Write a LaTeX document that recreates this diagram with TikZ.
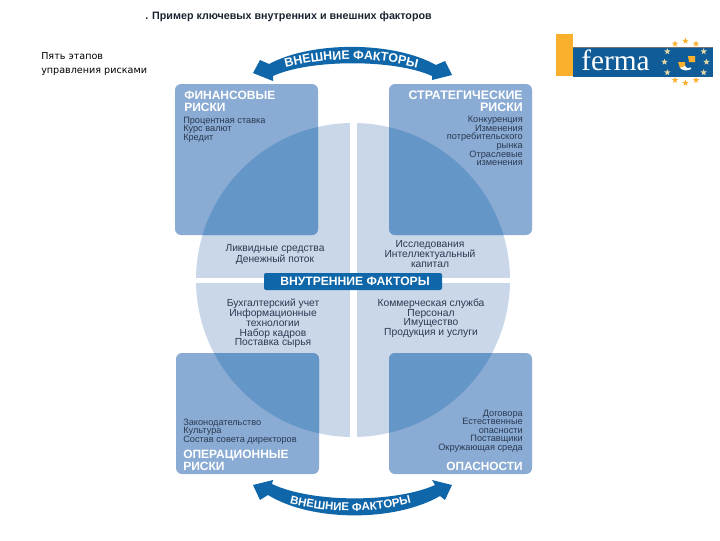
\documentclass[tikz,border=0pt]{standalone}
\usepackage{fontspec}
\setmainfont{Liberation Sans}
\newfontfamily\uifont{DejaVu Sans}
\newfontfamily\logofont{Liberation Serif}
\usetikzlibrary{decorations.text,shapes.geometric}
\definecolor{lightq}{HTML}{C9D7E9}
\definecolor{boxc}{HTML}{8AABD3}
\definecolor{overc}{HTML}{6496C8}
\definecolor{bandc}{HTML}{0F66A9}
\definecolor{txtc}{HTML}{2B3A52}
\definecolor{logoy}{HTML}{FBB02D}
\definecolor{logob}{HTML}{0F5C98}
\definecolor{logop}{HTML}{E6D9A8}
\newcommand{\fs}[2]{\fontsize{#1}{#2}\selectfont}
\tikzset{
  bodyL/.style={anchor=north west,align=left,inner sep=0pt,text=txtc,font=\fs{6.9}{6.45}},
  bodyR/.style={anchor=north east,align=right,inner sep=0pt,text=txtc,font=\fs{6.9}{6.45}},
  midtext/.style={anchor=north,align=center,inner sep=0pt,text=txtc,font=\fs{7.7}{7.3}},
  headL/.style={anchor=north west,align=left,inner sep=0pt,text=white,font=\fs{9}{9.2}\bfseries},
  headR/.style={anchor=north east,align=right,inner sep=0pt,text=white,font=\fs{9.3}{9.2}\bfseries},
  riskbox/.style={fill=boxc,rounded corners=4.5pt},
  bigarrow/.style={fill=bandc,draw=none},
  logostar/.style={star,star points=5,star point ratio=2.4,inner sep=0pt,minimum size=5pt},
}
\begin{document}
\begin{tikzpicture}[x=0.75pt,y=-0.75pt]
\useasboundingbox (0,0) rectangle (720,540);
% circle quadrants
\begin{scope}
  \clip (353,280) circle [radius=157];
  \fill[lightq] (190,120) rectangle (350,278);
  \fill[lightq] (357,120) rectangle (515,278);
  \fill[lightq] (190,283) rectangle (350,440);
  \fill[lightq] (357,283) rectangle (515,440);
\end{scope}
% risk boxes
\fill[riskbox] (175,84) rectangle (318,235);
\fill[riskbox] (389,84) rectangle (532,235);
\fill[riskbox] (176,353) rectangle (319,474);
\fill[riskbox] (389,353) rectangle (532,474);
% overlaps
\foreach \xa/\ya/\xb/\yb in {175/84/318/235,389/84/532/235,176/353/319/474,389/353/532/474}{
  \begin{scope}
    \clip (353,280) circle [radius=157];
    \fill[overc,rounded corners=4.5pt] (\xa,\ya) rectangle (\xb,\yb);
  \end{scope}
}
% band
\fill[bandc,rounded corners=1.5pt] (264,273) rectangle (442,290);
\node[inner sep=0pt,text=white,font=\fs{9.1}{10}\bfseries] (band) at (355,281.5) {ВНУТРЕННИЕ ФАКТОРЫ};
% top arrow
\fill[bigarrow] (253,73) -- (260,60) -- (269,64)
  .. controls (312,41) and (393,41) .. (436,65)
  -- (445,61) -- (452,75) -- (432,80) -- (432,76)
  .. controls (395,59) and (310,59) .. (273,76)
  -- (273,81) -- cycle;
\path[decorate,decoration={text along path,text align=center,
  text={|\fs{9.3}{10}\bfseries\color{white}|ВНЕШНИЕ ФАКТОРЫ}}]
  (270,72.5) .. controls (324,55) and (379,55) .. (433,72.5);
% bottom arrow
\fill[bigarrow] (253,485) -- (273,480) -- (272,484)
  .. controls (312,503) and (395,503) .. (435,485)
  -- (432,480) -- (452,485) -- (445,500) -- (440,496)
  .. controls (395,522) and (312,522) .. (268,495)
  -- (260,500) -- cycle;
\path[decorate,decoration={text along path,text align=center,
  text={|\fs{8.6}{9}\bfseries\color{white}|ВНЕШНИЕ ФАКТОРЫ}}]
  (268.5,496.5) .. controls (323,515.8) and (378,515.8) .. (432.5,496.5);
% headings
\node[headL] (h1) at (184,90.5) {ФИНАНСОВЫЕ\\РИСКИ};
\node[headR] (h2) at (523,90.5) {СТРАТЕГИЧЕСКИЕ\\РИСКИ};
\node[headL] (h3) at (183,449.5) {ОПЕРАЦИОННЫЕ\\РИСКИ};
\node[headR,font=\fs{8.9}{9.2}\bfseries] (h4) at (523,461.5) {ОПАСНОСТИ};
% body text
\node[bodyL] (t1) at (183,116.5) {Процентная ставка\\Курс валют\\Кредит};
\node[bodyR] (t2) at (523,116) {Конкуренция\\Изменения\\потребительского\\рынка\\Отраслевые\\изменения};
\node[bodyL] (t3) at (183,418.5) {Законодательство\\Культура\\Состав совета директоров};
\node[bodyR] (t4) at (523,409.5) {Договора\\Естественные\\опасности\\Поставщики\\Окружающая среда};
\node[midtext] (m1) at (275,244) {Ликвидные средства\\Денежный поток};
\node[midtext] (m2) at (430,240.5) {Исследования\\Интеллектуальный\\капитал};
\node[midtext] (m3) at (273,299) {Бухгалтерский учет\\Информационные\\технологии\\Набор кадров\\Поставка сырья};
\node[midtext] (m4) at (431,298.5) {Коммерческая служба\\Персонал\\Имущество\\Продукция и услуги};
% title
\node[anchor=west,inner sep=0pt,text=txtc!60!black,font=\fs{8.05}{9}\bfseries] (title) at (145,17) {. Пример ключевых внутренних и внешних факторов};
% left caption
\node[anchor=west,inner sep=0pt,font=\uifont\fs{7.2}{8}] (c1) at (41,56) {Пять этапов};
\node[anchor=west,inner sep=0pt,font=\uifont\fs{7.2}{8}] (c2) at (41,71.5) {управления рисками};
% logo
\fill[logoy] (556,34) rectangle (573,76);
\fill[black!55] (573,47) rectangle (713,48);
\fill[logob] (573,48) rectangle (713,77);
\node[anchor=base west,inner sep=0pt,text=white,font=\logofont\fs{22}{22}] (ferma) at (581,70) {ferma};
\foreach \a in {240,270,300,60,90,120}{
  \node[logostar,fill=logoy] (st\a) at ({685.5+21*cos(\a)},{62+21*sin(\a)}) {};
}
\foreach \a in {0,30,150,180,210,330}{
  \node[logostar,fill=logop] (st\a) at ({685.5+21*cos(\a)},{62+21*sin(\a)}) {};
}
\fill[logoy] (688,56) -- (695,56) -- (695,62) -- (689,62) -- cycle;
\fill[logoy] (678,62) -- (685,62) -- (685,68) -- (680,68) -- cycle;
\fill[white] (680,68) .. controls (683,71) and (688,71) .. (691,69) -- (691,67.5) .. controls (688,68.5) and (686,68.5) .. (685,66) -- cycle;
\end{tikzpicture}
\end{document}
